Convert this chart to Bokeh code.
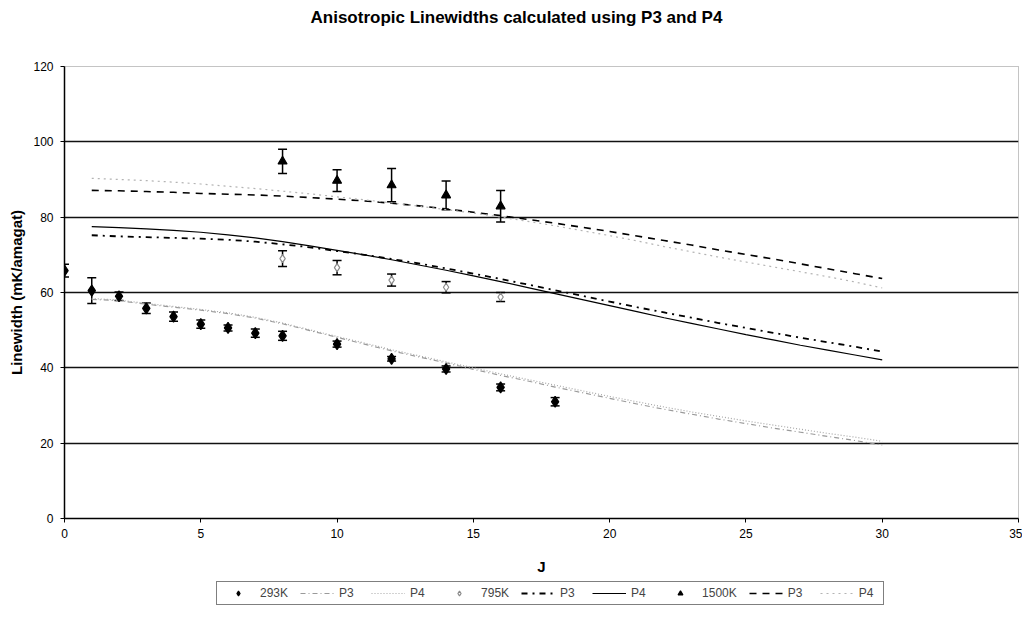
from bokeh.plotting import figure
from bokeh.layouts import column
from bokeh.models import (ColumnDataSource, Whisker, TeeHead, Legend, LegendItem,
                          FixedTicker, Label)
from bokeh.embed import file_html
from bokeh.resources import INLINE

TITLE = "Anisotropic Linewidths calculated using P3 and P4"
X_LABEL = "J"
Y_LABEL = "Linewidth (mK/amagat)"

# measured points
J_293 = [0, 1, 2, 3, 4, 5, 6, 7, 8, 10, 12, 14, 16, 18]
W_293 = [65.8, 60.5, 59.0, 55.8, 53.6, 51.6, 50.6, 49.2, 48.5, 46.3, 42.4, 39.7, 34.8, 31.0]
E_293 = [1.7, 3.4, 1.1, 1.4, 1.2, 1.1, 0.8, 1.1, 1.2, 0.8, 0.6, 0.8, 0.9, 1.1]

J_795 = [8, 10, 12, 14, 16]
W_795 = [69.0, 66.6, 63.3, 61.4, 58.8]
E_795 = [2.1, 1.9, 1.6, 1.5, 1.2]

J_1500 = [8, 10, 12, 14, 16]
W_1500 = [94.8, 89.7, 88.5, 85.8, 82.9]
E_1500 = [3.2, 2.9, 4.4, 3.8, 4.2]

# calculated curves
J_FIT = list(range(1, 31))
P3_293 = [58.2, 57.8, 56.9, 56.1, 55.3, 54.4, 53.2, 51.7, 49.9, 48.1, 46.3, 44.5, 42.9,
          41.3, 39.6, 38.0, 36.5, 34.9, 33.4, 31.9, 30.4, 29.0, 27.7, 26.4, 25.2, 24.0,
          22.9, 21.8, 20.7, 19.5]
P4_293 = [58.4, 58.0, 57.1, 56.3, 55.5, 54.6, 53.4, 51.9, 50.1, 48.3, 46.6, 44.8, 43.2,
          41.6, 40.0, 38.4, 36.9, 35.4, 33.9, 32.4, 31.0, 29.6, 28.3, 27.1, 25.9, 24.8,
          23.7, 22.6, 21.6, 20.5]
P3_795 = [75.2, 74.9, 74.7, 74.5, 74.3, 74.0, 73.5, 72.8, 72.0, 71.0, 70.0, 68.9, 67.7,
          66.4, 65.0, 63.6, 62.1, 60.6, 59.1, 57.6, 56.1, 54.7, 53.3, 51.9, 50.6, 49.3,
          48.0, 46.8, 45.6, 44.3]
P4_795 = [77.5, 77.2, 76.9, 76.5, 76.0, 75.3, 74.5, 73.5, 72.4, 71.2, 70.0, 68.7, 67.3,
          65.9, 64.4, 62.9, 61.3, 59.7, 58.1, 56.5, 54.9, 53.3, 51.8, 50.3, 48.8, 47.4,
          46.0, 44.7, 43.4, 42.1]
P3_1500 = [87.1, 87.0, 86.8, 86.6, 86.3, 86.1, 85.9, 85.6, 85.2, 84.8, 84.3, 83.7, 83.0,
           82.2, 81.3, 80.4, 79.4, 78.4, 77.3, 76.2, 75.0, 73.8, 72.6, 71.3, 70.1, 68.9,
           67.6, 66.3, 65.0, 63.7]
P4_1500 = [90.3, 90.0, 89.7, 89.3, 88.8, 88.2, 87.6, 86.9, 86.2, 85.4, 84.6, 83.8, 82.9,
           82.0, 81.1, 80.0, 78.9, 77.7, 76.4, 75.1, 73.7, 72.2, 70.8, 69.4, 68.1, 66.8,
           65.5, 64.2, 62.8, 61.2]

X_TICKS = [0, 5, 10, 15, 20, 25, 30, 35]
Y_TICKS = [0, 20, 40, 60, 80, 100, 120]
GRID_Y = [20, 40, 60, 80, 100]

FONT = "Liberation Sans"

# line styles (shared by plot and legend)
STY = {
    "293_3": dict(line_color="#9a9a9a", line_width=1.2, line_dash="5 3 1 3"),
    "293_4": dict(line_color="#a8a8a8", line_width=1.2, line_dash="1 2"),
    "795_3": dict(line_color="black", line_width=1.8, line_dash="6 5 2 5"),
    "795_4": dict(line_color="black", line_width=1.2),
    "1500_3": dict(line_color="black", line_width=1.6, line_dash="7 6"),
    "1500_4": dict(line_color="#b4b4b4", line_width=1.2, line_dash="2 4"),
}
MK = {
    "293": dict(marker="diamond", size=11, fill_color="black", line_color="black"),
    "795": dict(marker="diamond", size=8, fill_color="white", line_color="#8a8a8a"),
    "1500": dict(marker="triangle", size=9, fill_color="black", line_color="black"),
}

def blank_strip(height):
    f = figure(width=1022, height=height, output_backend="svg", toolbar_location=None,
               min_border_left=0, min_border_right=0, min_border_top=0,
               min_border_bottom=0, x_range=(0, 1), y_range=(0, 1))
    f.axis.visible = False
    f.grid.visible = False
    f.outline_line_color = None
    f.border_fill_color = "white"
    f.background_fill_color = "white"
    return f

# title strip
head = blank_strip(33)
head.add_layout(Label(x=246, y=16, x_units="screen", y_units="screen", text=TITLE,
                      text_font=FONT, text_font_style="bold", text_font_size="17px",
                      text_color="black", text_baseline="middle", text_align="left"))

p = figure(frame_width=954, frame_height=452, x_range=(0, 35), y_range=(0, 120),
           output_backend="svg", toolbar_location=None,
           min_border_left=64, min_border_right=4, min_border_top=33,
           min_border_bottom=60)
p.background_fill_color = "white"
p.border_fill_color = "white"
p.outline_line_color = "#888888"
p.outline_line_dash = "1 1"
p.outline_line_width = 1

# grid
p.xgrid.visible = False
p.ygrid.ticker = FixedTicker(ticks=GRID_Y)
p.ygrid.grid_line_color = "#111111"
p.ygrid.grid_line_width = 1.6

# axes
for ax in (p.xaxis[0], p.yaxis[0]):
    ax.axis_line_color = "black"
    ax.axis_line_width = 1.5
    ax.major_tick_line_color = "black"
    ax.major_tick_out = 4
    ax.major_tick_in = 0
    ax.minor_tick_out = 0
    ax.minor_tick_in = 0
    ax.major_label_text_font = FONT
    ax.major_label_text_font_size = "12px"
    ax.major_label_text_color = "black"
    ax.axis_label_text_font = FONT
    ax.axis_label_text_font_style = "bold"
    ax.axis_label_text_font_size = "15px"
    ax.axis_label_text_color = "black"

p.xaxis.ticker = FixedTicker(ticks=X_TICKS)
p.yaxis.ticker = FixedTicker(ticks=Y_TICKS)
p.xaxis.axis_label = X_LABEL
p.yaxis.axis_label = Y_LABEL
p.xaxis.major_label_standoff = 6
p.yaxis.major_label_standoff = 7
p.yaxis.axis_label_standoff = 5
p.xaxis.axis_label_standoff = 17

# calculated lines
p.line(J_FIT, P3_293, **STY["293_3"])
p.line(J_FIT, P4_293, **STY["293_4"])
p.line(J_FIT, P3_795, **STY["795_3"])
p.line(J_FIT, P4_795, **STY["795_4"])
p.line(J_FIT, P3_1500, **STY["1500_3"])
p.line(J_FIT, P4_1500, **STY["1500_4"])

# measured points with error bars
def add_points(J, W, E, mk):
    src = ColumnDataSource(dict(x=J, y=W,
                                upper=[w + e for w, e in zip(W, E)],
                                lower=[w - e for w, e in zip(W, E)]))
    wh = Whisker(source=src, base="x", upper="upper", lower="lower",
                 line_color="black", line_width=1.5,
                 upper_head=TeeHead(size=9, line_color="black", line_width=1.5),
                 lower_head=TeeHead(size=9, line_color="black", line_width=1.5))
    p.add_layout(wh)
    return p.scatter("x", "y", source=src, line_width=1.2, **mk)

add_points(J_293, W_293, E_293, MK["293"])
add_points(J_795, W_795, E_795, MK["795"])
add_points(J_1500, W_1500, E_1500, MK["1500"])

# legend strip below the chart (proxy renderers sit outside the strip's visible range)
lg = blank_strip(38)
OFF = [-5.0]

def proxy_line(key):
    return lg.line(OFF, OFF, **STY[key])

def proxy_mark(key):
    return lg.scatter(OFF, OFF, line_width=1.2, **MK[key])

items = [
    LegendItem(label="293K", renderers=[proxy_mark("293")]),
    LegendItem(label="P3", renderers=[proxy_line("293_3")]),
    LegendItem(label="P4", renderers=[proxy_line("293_4")]),
    LegendItem(label="795K", renderers=[proxy_mark("795")]),
    LegendItem(label="P3", renderers=[proxy_line("795_3")]),
    LegendItem(label="P4", renderers=[proxy_line("795_4")]),
    LegendItem(label="1500K", renderers=[proxy_mark("1500")]),
    LegendItem(label="P3", renderers=[proxy_line("1500_3")]),
    LegendItem(label="P4", renderers=[proxy_line("1500_4")]),
]
legend = Legend(items=items, orientation="horizontal", location=(152, 11),
                border_line_color="black", border_line_width=1,
                label_text_font=FONT, label_text_font_size="12px",
                glyph_width=34, glyph_height=12, spacing=12, padding=4,
                label_standoff=5, margin=0, background_fill_alpha=1)
lg.add_layout(legend, "center")

layout = column(head, p, lg, spacing=0)
open("out.html", "w").write(file_html(layout, INLINE))
